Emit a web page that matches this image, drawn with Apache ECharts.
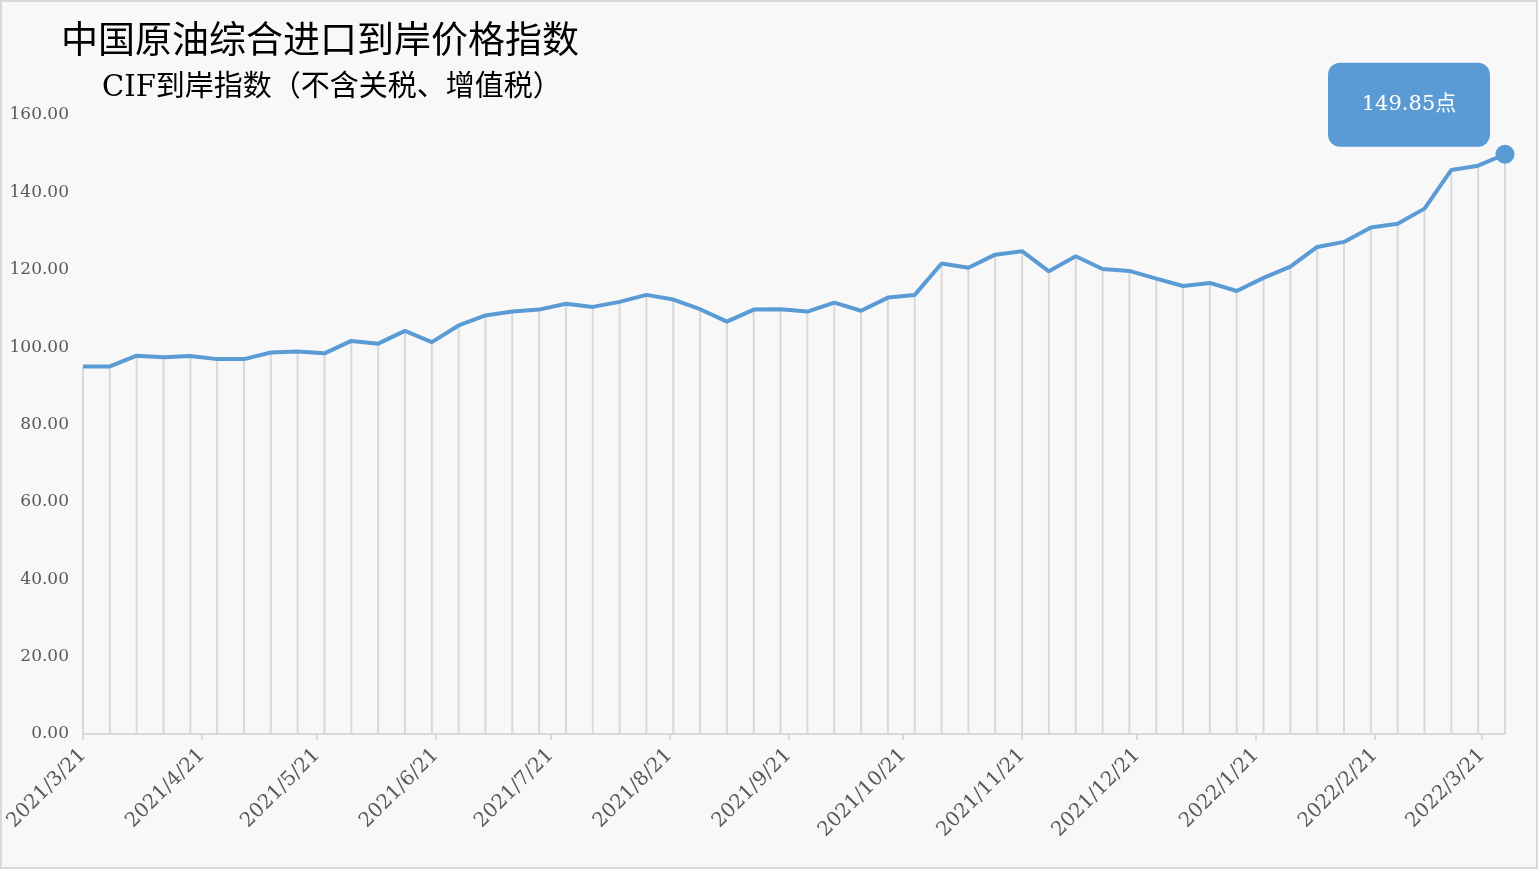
<!DOCTYPE html>
<html>
<head>
<meta charset="utf-8">
<script src="https://cdn.jsdelivr.net/npm/echarts@6/dist/echarts.min.js"></script>
<style>
html,body{margin:0;padding:0;background:#fff;}
#wrap{width:1538px;height:869px;box-sizing:border-box;border:2px solid #d9d9d9;background:#f8f8f8;position:relative;}
#chart{position:absolute;left:-2px;top:-2px;width:1538px;height:869px;}
</style>
</head>
<body>
<div id="wrap"><div id="chart"></div></div>
<script>
const titleText = '中国原油综合进口到岸价格指数';
const subtitleText = 'CIF到岸指数（不含关税、增值税）';
const unitSuffix = '点';

const dates = [
  '2021/3/21','2021/3/28','2021/4/4','2021/4/11','2021/4/18','2021/4/25',
  '2021/5/2','2021/5/9','2021/5/16','2021/5/23','2021/5/30',
  '2021/6/6','2021/6/13','2021/6/20','2021/6/27',
  '2021/7/4','2021/7/11','2021/7/18','2021/7/25',
  '2021/8/1','2021/8/8','2021/8/15','2021/8/22','2021/8/29',
  '2021/9/5','2021/9/12','2021/9/19','2021/9/26',
  '2021/10/3','2021/10/10','2021/10/17','2021/10/24','2021/10/31',
  '2021/11/7','2021/11/14','2021/11/21','2021/11/28',
  '2021/12/5','2021/12/12','2021/12/19','2021/12/26',
  '2022/1/2','2022/1/9','2022/1/16','2022/1/23','2022/1/30',
  '2022/2/6','2022/2/13','2022/2/20','2022/2/27',
  '2022/3/6','2022/3/13','2022/3/20','2022/3/27'
];

const indexValues = [
  95.0, 95.0, 97.8, 97.4, 97.7, 96.9,
  96.9, 98.6, 98.9, 98.4, 101.6,
  100.9, 104.2, 101.3, 105.6,
  108.2, 109.2, 109.7, 111.2,
  110.4, 111.7, 113.5, 112.3, 109.8,
  106.6, 109.7, 109.8, 109.2,
  111.5, 109.4, 112.8, 113.5, 121.6,
  120.5, 123.9, 124.8, 119.6,
  123.5, 120.2, 119.7, 117.7,
  115.8, 116.6, 114.5, 117.9, 120.8,
  125.9, 127.2, 130.9, 131.9,
  135.8, 145.8, 146.9, 149.85
];

const xTickLabels = [
  '2021/3/21','2021/4/21','2021/5/21','2021/6/21','2021/7/21','2021/8/21',
  '2021/9/21','2021/10/21','2021/11/21','2021/12/21','2022/1/21','2022/2/21','2022/3/21'
];

const yMin = 0, yMax = 160, yInterval = 20;

function dayNum(s) {
  const p = s.split('/').map(Number);
  return Date.UTC(p[0], p[1] - 1, p[2]) / 86400000;
}
const day0 = dayNum(dates[0]);
const xOf = s => dayNum(s) - day0;

const tickValues = xTickLabels.map(xOf);
const labelByValue = {};
xTickLabels.forEach((s, i) => { labelByValue[tickValues[i]] = s; });

const points = dates.map((d, i) => [xOf(d), indexValues[i]]);
const lastIdx = points.length - 1;

const serif = "'DejaVu Serif','Noto Sans CJK SC',serif";

const chart = echarts.init(document.getElementById('chart'));
chart.setOption({
  backgroundColor: 'transparent',
  animation: false,
  title: [
    { text: titleText, left: 56, top: 20,
      textStyle: { fontFamily: serif, fontSize: 37, fontWeight: 'normal', color: '#000' } },
    { text: subtitleText, left: 97, top: 69,
      textStyle: { fontFamily: serif, fontSize: 29, fontWeight: 'normal', color: '#000' } }
  ],
  grid: { left: 83, right: 33, top: 115, bottom: 135, containLabel: false },
  xAxis: {
    type: 'value',
    min: 0,
    max: xOf(dates[lastIdx]),
    splitLine: { show: false },
    axisLine: { show: true, lineStyle: { color: '#d9d9d9', width: 2 } },
    axisTick: { show: true, customValues: tickValues, length: 6, lineStyle: { color: '#d9d9d9', width: 2 } },
    axisLabel: {
      customValues: tickValues,
      rotate: 45,
      margin: 18,
      fontFamily: serif,
      fontSize: 20,
      color: '#595959',
      formatter: v => labelByValue[v] || ''
    }
  },
  yAxis: {
    type: 'value',
    min: yMin, max: yMax, interval: yInterval,
    splitLine: { show: false },
    axisLine: { show: false },
    axisTick: { show: false },
    axisLabel: {
      margin: 14,
      fontFamily: serif,
      fontSize: 17,
      color: '#595959',
      formatter: v => v.toFixed(2)
    }
  },
  series: [
    {
      type: 'bar',
      data: points,
      barWidth: 2,
      itemStyle: { color: '#d9d9d9' },
      silent: true,
      z: 1
    },
    {
      type: 'line',
      data: points.map((p, i) => i === lastIdx ? {
        value: p,
        symbol: 'circle',
        symbolSize: 19,
        label: {
          show: true,
          position: 'top',
          distance: 0,
          offset: [-96, -40],
          formatter: p => p.value[1].toFixed(2) + unitSuffix,
          backgroundColor: '#5b9bd5',
          borderRadius: 12,
          width: 162,
          height: 84,
          lineHeight: 84,
          align: 'center',
          verticalAlign: 'middle',
          padding: 0,
          color: '#ffffff',
          fontFamily: serif,
          fontSize: 21
        }
      } : { value: p, symbol: 'none' }),
      showSymbol: true,
      lineStyle: { color: '#5b9bd5', width: 4 },
      itemStyle: { color: '#5b9bd5' },
      z: 3
    }
  ]
});
</script>
</body>
</html>
